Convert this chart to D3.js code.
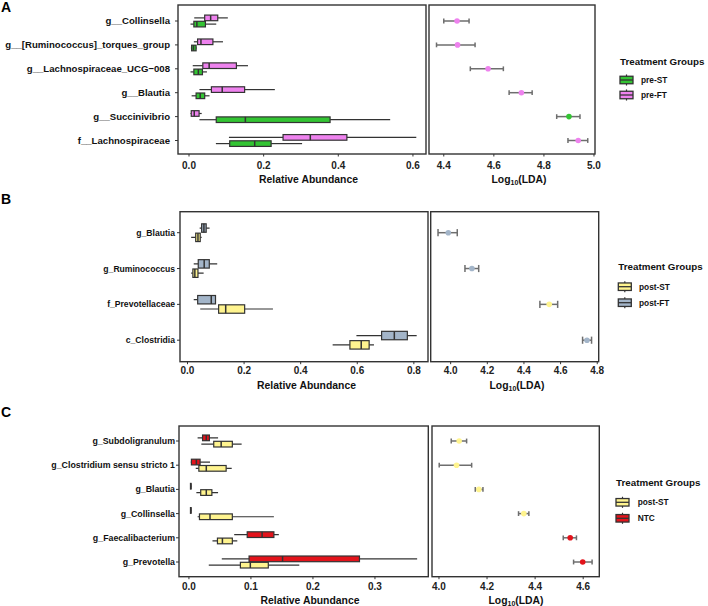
<!DOCTYPE html>
<html><head><meta charset="utf-8">
<script src="https://cdn.jsdelivr.net/npm/d3@7"></script>
<style>body{margin:0;background:#fff}svg{display:block}</style>
</head><body>
<svg id="chart" width="708" height="606"></svg>
<script>
// ---------- DATA ----------
// box stats per category: [min, q1, median, q3, max]
const catsA = ["g__Collinsella", "g__[Ruminococcus]_torques_group", "g__Lachnospiraceae_UCG\u2212008", "g__Blautia", "g__Succinivibrio", "f__Lachnospiraceae"];
const preST_A = [[0.004,0.013,0.021,0.044,0.073],[0.005,0.007,0.012,0.019,0.021],[0.004,0.013,0.025,0.036,0.048],[0.007,0.019,0.030,0.042,0.055],[0.028,0.073,0.151,0.378,0.539],[0.072,0.109,0.176,0.220,0.303]];
const preFT_A = [[0.014,0.042,0.058,0.077,0.104],[0.013,0.023,0.032,0.064,0.091],[0.010,0.037,0.054,0.127,0.158],[0.028,0.060,0.089,0.149,0.230],[0.004,0.006,0.014,0.027,0.034],[0.107,0.252,0.325,0.423,0.609]];
const ldaA = [4.453, 4.455, 4.577, 4.710, 4.900, 4.937];
const ldaLoA = [4.400, 4.371, 4.506, 4.661, 4.851, 4.896];
const ldaHiA = [4.501, 4.525, 4.638, 4.753, 4.944, 4.975];
const ldaGroupA = ["pre-FT","pre-FT","pre-FT","pre-FT","pre-ST","pre-FT"];
const ticksAL = [0.0, 0.2, 0.4, 0.6];
const ticksAR = [4.4, 4.6, 4.8, 5.0];

const catsB = ["g_Blautia", "g_Ruminococcus", "f_Prevotellaceae", "c_Clostridia"];
const postST_B = [[0.013,0.029,0.037,0.045,0.050],[0.013,0.019,0.026,0.037,0.057],[0.045,0.110,0.135,0.202,0.302],[0.513,0.574,0.614,0.642,0.659]];
const postFT_B = [[0.043,0.050,0.058,0.066,0.078],[0.022,0.038,0.059,0.077,0.105],[0.022,0.036,0.084,0.099,0.100],[0.597,0.686,0.731,0.777,0.810]];
const ldaB = [3.987, 4.116, 4.538, 4.744];
const ldaLoB = [3.931, 4.078, 4.487, 4.720];
const ldaHiB = [4.036, 4.153, 4.584, 4.769];
const ldaGroupB = ["post-FT","post-FT","post-ST","post-FT"];
const ticksBL = [0.0, 0.2, 0.4, 0.6, 0.8];
const ticksBR = [4.0, 4.2, 4.4, 4.6, 4.8];

const catsC = ["g_Subdoligranulum", "g_Clostridium sensu stricto 1", "g_Blautia", "g_Collinsella", "g_Faecalibacterium", "g_Prevotella"];
const postST_C = [[0.020,0.040,0.052,0.070,0.085],[0.011,0.016,0.028,0.060,0.069],[0.012,0.019,0.028,0.037,0.047],[0.014,0.017,0.034,0.070,0.137],[0.038,0.046,0.054,0.070,0.078],[0.032,0.083,0.099,0.128,0.178]];
const NTC_C = [[0.014,0.022,0.028,0.033,0.047],[0.003,0.004,0.012,0.018,0.034],[0.002,0.0025,0.003,0.0035,0.004],[0.002,0.0025,0.003,0.0035,0.004],[0.073,0.094,0.118,0.137,0.145],[0.053,0.097,0.151,0.275,0.368]];
const ldaC = [4.084, 4.073, 4.166, 4.353, 4.546, 4.598];
const ldaLoC = [4.051, 4.001, 4.151, 4.331, 4.517, 4.560];
const ldaHiC = [4.115, 4.136, 4.183, 4.374, 4.572, 4.637];
const ldaGroupC = ["post-ST","post-ST","post-ST","post-ST","NTC","NTC"];
const ticksCL = [0.0, 0.1, 0.2, 0.3];
const ticksCR = [4.0, 4.2, 4.4, 4.6];

const groupColors = {"pre-ST":"#33C433","pre-FT":"#EE82EE","post-ST":"#FFF48F","post-FT":"#A3B5C9","NTC":"#E3131B"};

// ---------- LAYOUT ----------
const panels = [
  {letter:"A", letterY:12, cats:catsA, groups:[["pre-ST",preST_A],["pre-FT",preFT_A]],
   lda:ldaA, lo:ldaLoA, hi:ldaHiA, lg:ldaGroupA, tl:ticksAL, tr:ticksAR,
   L:{x0:178,x1:426}, R:{x0:429,x1:595}, y0:5, y1:154, catTop:21, catBot:140.5,
   dL:[-0.0295,0.635], dR:[4.341,5.004], tickBase:169.3, titleBase:182.5, titleLX:308.5, titleRX:519,
   labelFs:9.6, labelRight:170, legX:620, legTitleY:64.5, legKeyY:[80,95], legLabelX:641},
  {letter:"B", letterY:204, cats:catsB, groups:[["post-ST",postST_B],["post-FT",postFT_B]],
   lda:ldaB, lo:ldaLoB, hi:ldaHiB, lg:ldaGroupB, tl:ticksBL, tr:ticksBR,
   L:{x0:180,x1:428}, R:{x0:430.7,x1:598.7}, y0:211.7, y1:361.7, catTop:232.7, catBot:340.2,
   dL:[-0.0265,0.850], dR:[3.891,4.808], tickBase:374.3, titleBase:389.3, titleLX:306.5, titleRX:517,
   labelFs:8.6, labelRight:175, legX:618.3, legTitleY:270, legKeyY:[286.7,302.7], legLabelX:639},
  {letter:"C", letterY:417, cats:catsC, groups:[["post-ST",postST_C],["NTC",NTC_C]],
   lda:ldaC, lo:ldaLoC, hi:ldaHiC, lg:ldaGroupC, tl:ticksCL, tr:ticksCR,
   L:{x0:179,x1:428.3}, R:{x0:432,x1:599.3}, y0:426, y1:576.7, catTop:441, catBot:562,
   dL:[-0.016,0.386], dR:[3.971,4.667], tickBase:590, titleBase:603.5, titleLX:310, titleRX:516,
   labelFs:8.8, labelRight:175, legX:616, legTitleY:485.5, legKeyY:[502.3,518.3], legLabelX:637.7}
];

const svg = d3.select("#chart");
const FONT = "'Liberation Sans', Arial, Helvetica, sans-serif";
const DARK = "#333333";

panels.forEach(p => {
  const g = svg.append("g");
  // panel letter
  g.append("text").attr("x", 1).attr("y", p.letterY).text(p.letter)
    .attr("font-family", FONT).attr("font-weight", "bold").attr("font-size", 14).attr("fill", "#000");

  const y = d3.scalePoint().domain(p.cats).range([p.catTop, p.catBot]);
  const step = y.step();
  const xL = d3.scaleLinear().domain(p.dL).range([p.L.x0, p.L.x1]);
  const xR = d3.scaleLinear().domain(p.dR).range([p.R.x0, p.R.x1]);

  // clip paths
  const clipId = "clip" + p.letter;
  svg.append("clipPath").attr("id", clipId).append("rect")
    .attr("x", p.L.x0).attr("y", p.y0).attr("width", p.L.x1 - p.L.x0).attr("height", p.y1 - p.y0);

  // ---- left panel boxplots ----
  const bh = step * 0.235;
  const off = step * 0.13;
  const boxG = g.append("g").attr("clip-path", `url(#${clipId})`);
  p.groups.forEach(([name, stats], gi) => {
    const dy = gi === 0 ? off : -off;
    const col = groupColors[name];
    const gg = boxG.append("g");
    const rows = gg.selectAll("g").data(stats).join("g")
      .attr("transform", (d, i) => `translate(0,${y(p.cats[i]) + dy})`);
    rows.append("line").attr("x1", d => xL(d[0])).attr("x2", d => xL(d[1])).attr("stroke", DARK).attr("stroke-width", 1.2);
    rows.append("line").attr("x1", d => xL(d[3])).attr("x2", d => xL(d[4])).attr("stroke", DARK).attr("stroke-width", 1.2);
    rows.append("rect").attr("x", d => xL(d[1])).attr("width", d => Math.max(0.5, xL(d[3]) - xL(d[1])))
      .attr("y", -bh / 2).attr("height", bh).attr("fill", col).attr("stroke", DARK).attr("stroke-width", 1.2);
    rows.append("line").attr("x1", d => xL(d[2])).attr("x2", d => xL(d[2]))
      .attr("y1", -bh / 2).attr("y2", bh / 2).attr("stroke", DARK).attr("stroke-width", 1.5);
  });

  // ---- frames ----
  [[p.L.x0, p.L.x1], [p.R.x0, p.R.x1]].forEach(([a, b]) => {
    g.append("rect").attr("x", a).attr("y", p.y0).attr("width", b - a).attr("height", p.y1 - p.y0)
      .attr("fill", "none").attr("stroke", DARK).attr("stroke-width", 1.4);
  });

  // ---- y axis (labels + ticks) ----
  const yAx = g.append("g");
  p.cats.forEach(c => {
    yAx.append("line").attr("x1", p.L.x0 - 3).attr("x2", p.L.x0).attr("y1", y(c)).attr("y2", y(c))
      .attr("stroke", DARK).attr("stroke-width", 1);
    yAx.append("text").attr("x", p.labelRight).attr("y", y(c)).attr("dy", "0.35em").attr("text-anchor", "end")
      .text(c).attr("font-family", FONT).attr("font-weight", "bold").attr("font-size", p.labelFs).attr("fill", "#111");
  });

  // ---- x axes ----
  const fmt = d3.format(".1f");
  [[xL, p.tl], [xR, p.tr]].forEach(([sc, ticks]) => {
    const ax = g.append("g");
    ticks.forEach(t => {
      ax.append("line").attr("x1", sc(t)).attr("x2", sc(t)).attr("y1", p.y1).attr("y2", p.y1 + 2.5)
        .attr("stroke", DARK).attr("stroke-width", 1);
      ax.append("text").attr("x", sc(t)).attr("y", p.tickBase).attr("text-anchor", "middle").text(fmt(t))
        .attr("font-family", FONT).attr("font-weight", "bold").attr("font-size", 10).attr("fill", "#222");
    });
  });
  g.append("text").attr("x", p.titleLX).attr("y", p.titleBase).attr("text-anchor", "middle")
    .text("Relative Abundance").attr("font-family", FONT).attr("font-weight", "bold").attr("font-size", 10.4).attr("fill", "#111");
  const lt = g.append("text").attr("x", p.titleRX).attr("y", p.titleBase).attr("text-anchor", "middle")
    .attr("font-family", FONT).attr("font-weight", "bold").attr("font-size", 10.4).attr("fill", "#111");
  lt.append("tspan").text("Log");
  lt.append("tspan").attr("font-size", 7).attr("dy", 2).text("10");
  lt.append("tspan").attr("dy", -2).text("(LDA)");

  // ---- LDA panel ----
  const cap = step * 0.2;
  const ldaG = g.append("g");
  p.cats.forEach((c, i) => {
    const yy = y(c);
    ldaG.append("line").attr("x1", xR(p.lo[i])).attr("x2", xR(p.hi[i])).attr("y1", yy).attr("y2", yy)
      .attr("stroke", "#6E6E6E").attr("stroke-width", 1.5);
    [p.lo[i], p.hi[i]].forEach(v => {
      ldaG.append("line").attr("x1", xR(v)).attr("x2", xR(v)).attr("y1", yy - cap / 2).attr("y2", yy + cap / 2)
        .attr("stroke", "#6E6E6E").attr("stroke-width", 1.5);
    });
    ldaG.append("circle").attr("cx", xR(p.lda[i])).attr("cy", yy).attr("r", 2.8)
      .attr("fill", groupColors[p.lg[i]]);
  });

  // ---- legend ----
  const leg = g.append("g");
  leg.append("text").attr("x", p.legX).attr("y", p.legTitleY).text("Treatment Groups")
    .attr("font-family", FONT).attr("font-weight", "bold").attr("font-size", 9.8).attr("fill", "#111");
  p.groups.forEach(([name], gi) => {
    const cy = p.legKeyY[gi];
    const kx = p.legX, kw = 13, kh = 7.5;
    leg.append("line").attr("x1", kx + kw / 2).attr("x2", kx + kw / 2).attr("y1", cy - kh / 2 - 1.8).attr("y2", cy + kh / 2 + 1.8)
      .attr("stroke", DARK).attr("stroke-width", 1.2);
    leg.append("rect").attr("x", kx).attr("y", cy - kh / 2).attr("width", kw).attr("height", kh)
      .attr("fill", groupColors[name]).attr("stroke", DARK).attr("stroke-width", 1.3);
    leg.append("line").attr("x1", kx).attr("x2", kx + kw).attr("y1", cy).attr("y2", cy)
      .attr("stroke", DARK).attr("stroke-width", 1.3);
    leg.append("text").attr("x", p.legLabelX).attr("y", cy).attr("dy", "0.35em").text(name)
      .attr("font-family", FONT).attr("font-weight", "bold").attr("font-size", 8.3).attr("fill", "#111");
  });
});
</script>
</body></html>
